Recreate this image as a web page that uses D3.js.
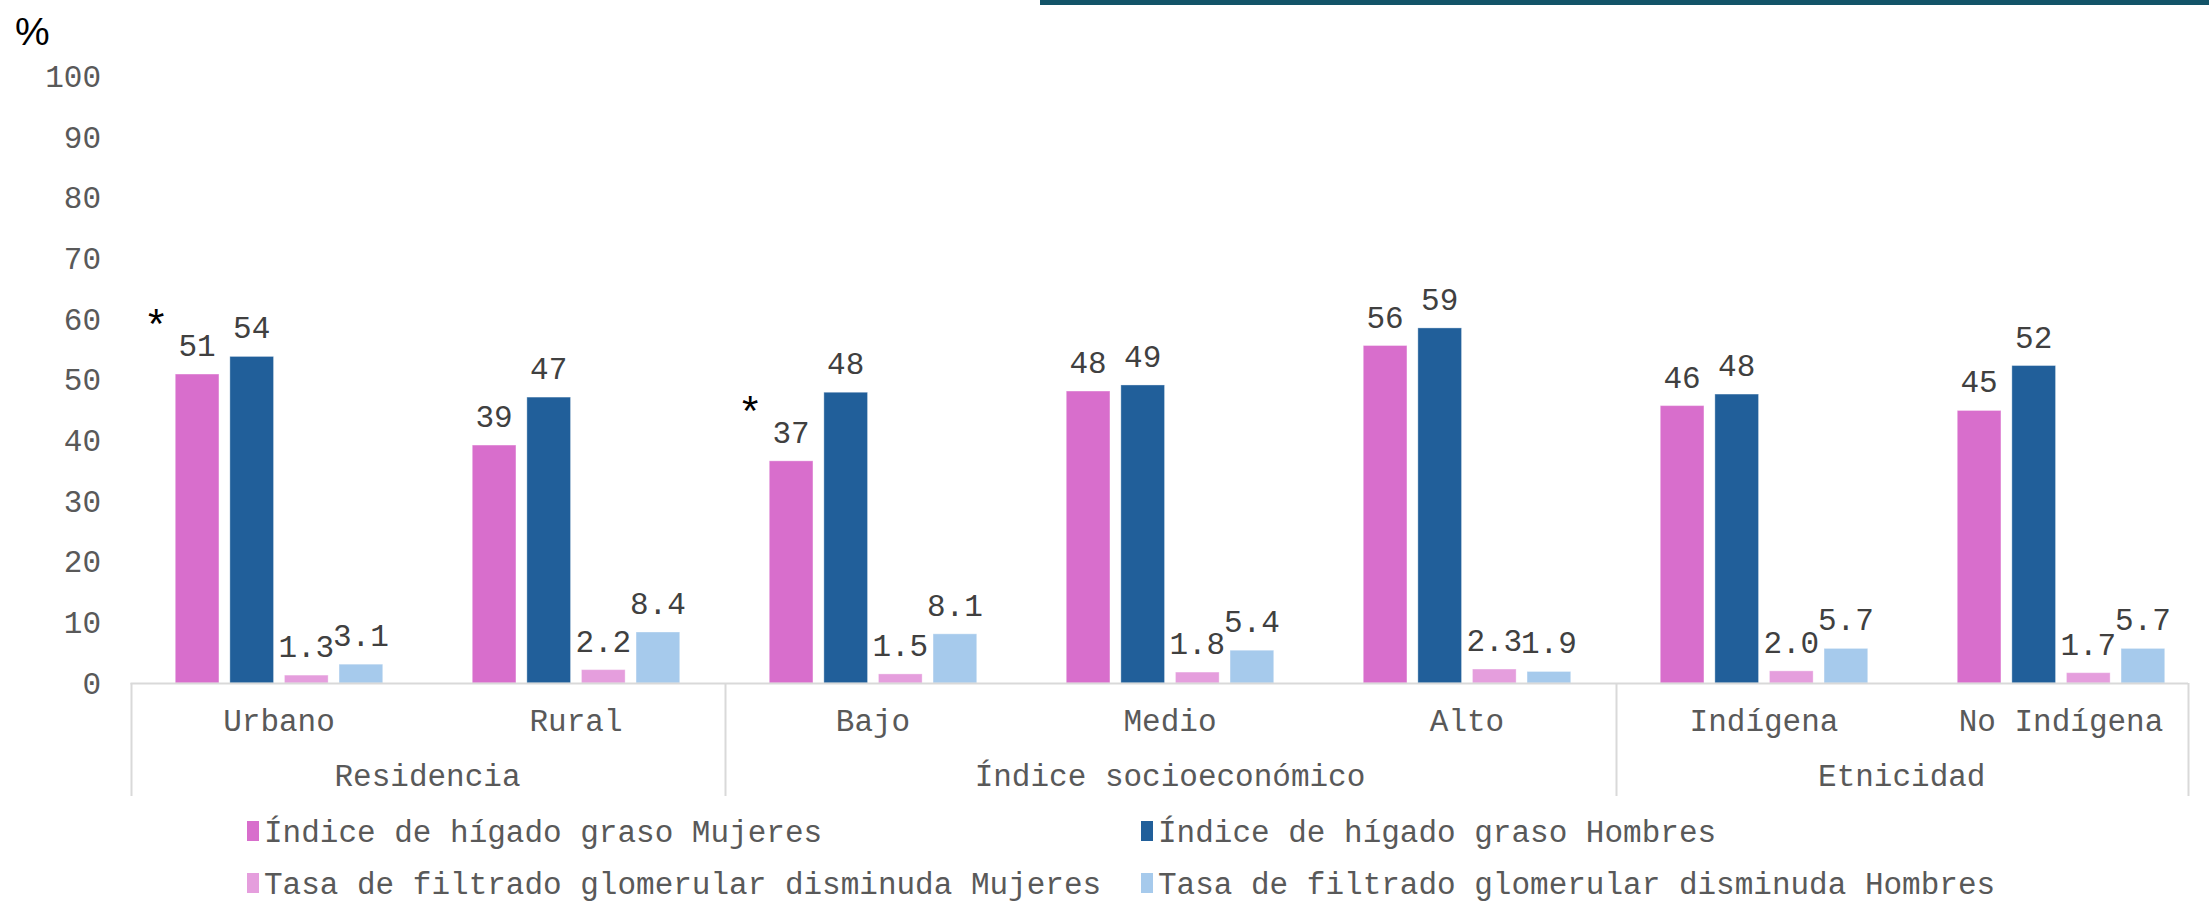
<!DOCTYPE html>
<html>
<head>
<meta charset="utf-8">
<script src="https://cdn.jsdelivr.net/npm/d3@7"></script>
<style>
  body { margin: 0; background: #fff; }
  svg { display: block; }
</style>
</head>
<body>
<div id="chart"></div>
<script>
// data
const categories = ['Urbano', 'Rural', 'Bajo', 'Medio', 'Alto', 'Indígena', 'No Indígena'];
const groups = [
  { name: 'Residencia', size: 2 },
  { name: 'Índice socioeconómico', size: 3 },
  { name: 'Etnicidad', size: 2 },
];
const series = [
  'Índice de hígado graso Mujeres',
  'Índice de hígado graso Hombres',
  'Tasa de filtrado glomerular disminuda Mujeres',
  'Tasa de filtrado glomerular disminuda Hombres',
];
const higadoMujeres = [50.9, 39.2, 36.6, 48.1, 55.6, 45.7, 44.9];
const higadoHombres = [53.8, 47.1, 47.9, 49.1, 58.5, 47.6, 52.3];
const tfgMujeres = [1.3, 2.2, 1.5, 1.8, 2.3, 2.0, 1.7];
const tfgHombres = [3.1, 8.4, 8.1, 5.4, 1.9, 5.7, 5.7];
const asterisk = ['Urbano', 'Bajo']; // marked above the women's fatty liver bar
const yTicks = [0, 10, 20, 30, 40, 50, 60, 70, 80, 90, 100];

const values = [higadoMujeres, higadoHombres, tfgMujeres, tfgHombres];
const formats = [d3.format('.0f'), d3.format('.0f'), d3.format('.1f'), d3.format('.1f')];
const colors = ['#D86ECC', '#215F9A', '#E59EDD', '#A6CAEC'];

const W = 2209, H = 902;
const font = "'Liberation Mono', 'Courier New', monospace";
const fs = '31px';

const svg = d3.select('#chart').append('svg').attr('width', W).attr('height', H);

// teal strip at the top right
svg.append('rect').attr('x', 1040).attr('y', 0).attr('width', W - 1040).attr('height', 5).attr('fill', '#135468');

const x0 = d3.scaleBand().domain(categories).range([130.5, 2209.5]);
const x1 = d3.scaleBand().domain(d3.range(series.length)).range([0, x0.bandwidth()])
  .paddingInner(0.2).paddingOuter(0.82);
const y = d3.scaleLinear().domain([0, 100]).range([683, 76]);
const axisRight = 2188;

// % label
svg.append('text').attr('x', 15).attr('y', 45)
  .style('font-family', "'Liberation Sans', Arial, sans-serif").style('font-size', '39px')
  .attr('fill', '#000').text('%');

// y tick labels
svg.append('g').selectAll('text').data(yTicks).join('text')
  .attr('x', 101).attr('y', d => y(d)).attr('dy', '0.35em')
  .attr('text-anchor', 'end')
  .style('font-family', font).style('font-size', fs).attr('fill', '#595959')
  .text(d => d);

// bars
const cat = svg.append('g').selectAll('g').data(categories).join('g')
  .attr('transform', d => `translate(${x0(d)},0)`);

cat.selectAll('rect').data((c, ci) => values.map((v, si) => ({ si, v: v[ci] }))).join('rect')
  .attr('x', d => x1(d.si)).attr('width', x1.bandwidth())
  .attr('y', d => y(d.v)).attr('height', d => y(0) - y(d.v))
  .attr('fill', d => colors[d.si])
  .attr('stroke', '#fff').attr('stroke-opacity', 0.35).attr('stroke-width', 1);

cat.selectAll('text.lbl').data((c, ci) => values.map((v, si) => ({ si, v: v[ci] }))).join('text')
  .attr('class', 'lbl')
  .attr('x', d => x1(d.si) + x1.bandwidth() / 2).attr('y', d => y(d.v) - 18)
  .attr('text-anchor', 'middle')
  .style('font-family', font).style('font-size', fs).attr('fill', '#404040')
  .text(d => formats[d.si](d.v));

// asterisks
svg.append('g').selectAll('text').data(asterisk).join('text')
  .attr('x', d => x0(d) + x1(0) + x1.bandwidth() / 2 - 41)
  .attr('y', d => y(higadoMujeres[categories.indexOf(d)]) - 36)
  .attr('text-anchor', 'middle')
  .style('font-family', "'Liberation Sans', Arial, sans-serif").style('font-size', '42px')
  .attr('fill', '#000').text('*');

// x axis line
const axisG = svg.append('g');
axisG.append('line').attr('x1', x0.range()[0]).attr('x2', axisRight)
  .attr('y1', y(0) + 0.5).attr('y2', y(0) + 0.5).attr('stroke', '#d9d9d9').attr('stroke-width', 2);

// category labels
axisG.selectAll('text.cat').data(categories).join('text')
  .attr('class', 'cat')
  .attr('x', d => x0(d) + x0.bandwidth() / 2).attr('y', 720).attr('dy', '0.35em')
  .attr('text-anchor', 'middle')
  .style('font-family', font).style('font-size', fs).attr('fill', '#595959')
  .text(d => d);

// group separators and labels
let start = 0;
const groupPos = groups.map(g => {
  const a = x0(categories[start]);
  start += g.size;
  const b = start < categories.length ? x0(categories[start]) : axisRight;
  return { name: g.name, a, b };
});
const sepX = [groupPos[0].a].concat(groupPos.map(g => g.b));
axisG.selectAll('line.sep').data(sepX).join('line')
  .attr('class', 'sep')
  .attr('x1', d => Math.round(d) + 0.5).attr('x2', d => Math.round(d) + 0.5)
  .attr('y1', y(0)).attr('y2', 796)
  .attr('stroke', '#d9d9d9').attr('stroke-width', 2);
axisG.selectAll('text.grp').data(groupPos).join('text')
  .attr('class', 'grp')
  .attr('x', d => (d.a + d.b) / 2).attr('y', 775).attr('dy', '0.35em')
  .attr('text-anchor', 'middle')
  .style('font-family', font).style('font-size', fs).attr('fill', '#595959')
  .text(d => d.name);

// legend
const legX = [247, 1141], legY = [831, 883];
const leg = svg.append('g').selectAll('g').data(series).join('g')
  .attr('transform', (d, i) => `translate(${legX[i % 2]},${legY[Math.floor(i / 2)]})`);
leg.append('rect').attr('x', 0).attr('y', -10).attr('width', 12).attr('height', 20)
  .attr('fill', (d, i) => colors[i]);
leg.append('text').attr('x', 17).attr('y', 0).attr('dy', '0.35em')
  .style('font-family', font).style('font-size', fs).attr('fill', '#595959')
  .text(d => d);
</script>
</body>
</html>
